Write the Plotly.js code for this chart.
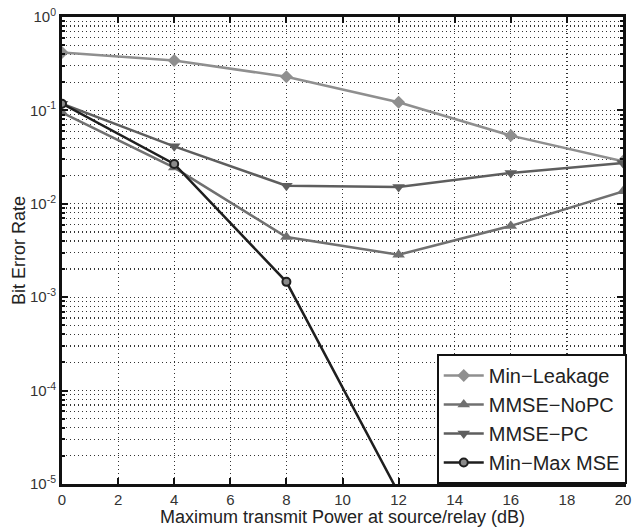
<!DOCTYPE html>
<html>
<head>
<meta charset="utf-8">
<script src="https://cdn.plot.ly/plotly-3.0.1.min.js"></script>
<style>html,body{margin:0;padding:0;background:#fff;}#chart{width:634px;height:527px;}</style>
</head>
<body>
<div id="chart"></div>
<script>
const powerDb = [0, 4, 8, 12, 16, 20];
const minLeakage = [0.417, 0.342, 0.229, 0.122, 0.0537, 0.0285];
const mmseNoPC = [0.0947, 0.0244, 0.0044, 0.00285, 0.0058, 0.0136];
const mmsePC = [0.118, 0.0412, 0.0156, 0.0151, 0.0214, 0.0274];
const minMaxX = [0, 4, 8, 12];
const minMaxMSE = [0.118, 0.0267, 0.00146, 0.000008];
const yTickVals = [1, 0.1, 0.01, 0.001, 0.0001, 0.00001];
const yTickText = ['10<sup>0</sup>', '10<sup>-1</sup>', '10<sup>-2</sup>', '10<sup>-3</sup>', '10<sup>-4</sup>', '10<sup>-5</sup>'];
const xTickVals = [0, 2, 4, 6, 8, 10, 12, 14, 16, 18, 20];
const yMinorVals = [0.9,0.8,0.7,0.6,0.5,0.4,0.3,0.2,0.09,0.08,0.07,0.06,0.05,0.04,0.03,0.02,0.009,0.008,0.007,0.006,0.005,0.004,0.003,0.002,0.0009,0.0008,0.0007,0.0006,0.0005,0.0004,0.0003,0.0002,0.00009,0.00008,0.00007,0.00006,0.00005,0.00004,0.00003,0.00002];

const traces = [
  {x: powerDb, y: minLeakage, name: 'Min\u2212Leakage', mode: 'lines+markers',
   line: {color: '#8f8f8f', width: 2.5}, marker: {symbol: 'diamond', size: 10, color: '#8f8f8f'}},
  {x: powerDb, y: mmseNoPC, name: 'MMSE\u2212NoPC', mode: 'lines+markers',
   line: {color: '#707070', width: 2.5}, marker: {symbol: 'triangle-up', size: 11, color: '#707070'}},
  {x: powerDb, y: mmsePC, name: 'MMSE\u2212PC', mode: 'lines+markers',
   line: {color: '#5e5e5e', width: 2.5}, marker: {symbol: 'triangle-down', size: 11, color: '#5e5e5e'}},
  {x: minMaxX, y: minMaxMSE, name: 'Min\u2212Max MSE', mode: 'lines+markers',
   line: {color: '#1e1e1e', width: 2.5}, marker: {symbol: 'circle', size: 8, color: '#8a8a8a', line: {color: '#1e1e1e', width: 2}}}
];

const layout = {
  width: 634, height: 527,
  margin: {l: 62, r: 11, t: 17, b: 43, autoexpand: false},
  paper_bgcolor: '#fff', plot_bgcolor: '#fff',
  font: {family: 'Liberation Sans, Arial, sans-serif', color: '#222'},
  showlegend: true,
  legend: {x: 0.668, y: 0, xanchor: 'left', yanchor: 'bottom', bgcolor: '#fff',
    bordercolor: '#111', borderwidth: 2, font: {size: 20, color: '#222'}, itemwidth: 40,
    tracegroupgap: 0},
  xaxis: {range: [0, 20], tickvals: xTickVals, ticks: 'inside', ticklen: 6, tickwidth: 2,
    tickcolor: '#111', mirror: 'ticks', showline: true, linecolor: '#111', linewidth: 3,
    showgrid: true, gridcolor: '#333', griddash: '1px,3px', gridwidth: 1.2, zeroline: false,
    automargin: false, tickfont: {size: 15, color: '#333'},
    title: {text: 'Maximum transmit Power at source/relay (dB)', font: {size: 18, color: '#222'}, standoff: 2}},
  yaxis: {type: 'log', range: [-5, 0], tickvals: yTickVals, ticktext: yTickText,
    ticks: 'inside', ticklen: 6, tickwidth: 2, tickcolor: '#111', mirror: 'ticks',
    showline: true, linecolor: '#111', linewidth: 3,
    showgrid: true, gridcolor: '#333', griddash: '1px,3px', gridwidth: 1.2, zeroline: false,
    minor: {showgrid: true, gridcolor: '#333', griddash: '1px,3px', gridwidth: 1.2, ticks: 'inside', ticklen: 3, tickcolor: '#111',
      tickvals: yMinorVals},
    automargin: false, tickfont: {size: 15, color: '#333'},
    title: {text: 'Bit Error Rate', font: {size: 18, color: '#222'}, standoff: 0}}
};

Plotly.newPlot('chart', traces, layout, {displayModeBar: false, staticPlot: true});
</script>
</body>
</html>
